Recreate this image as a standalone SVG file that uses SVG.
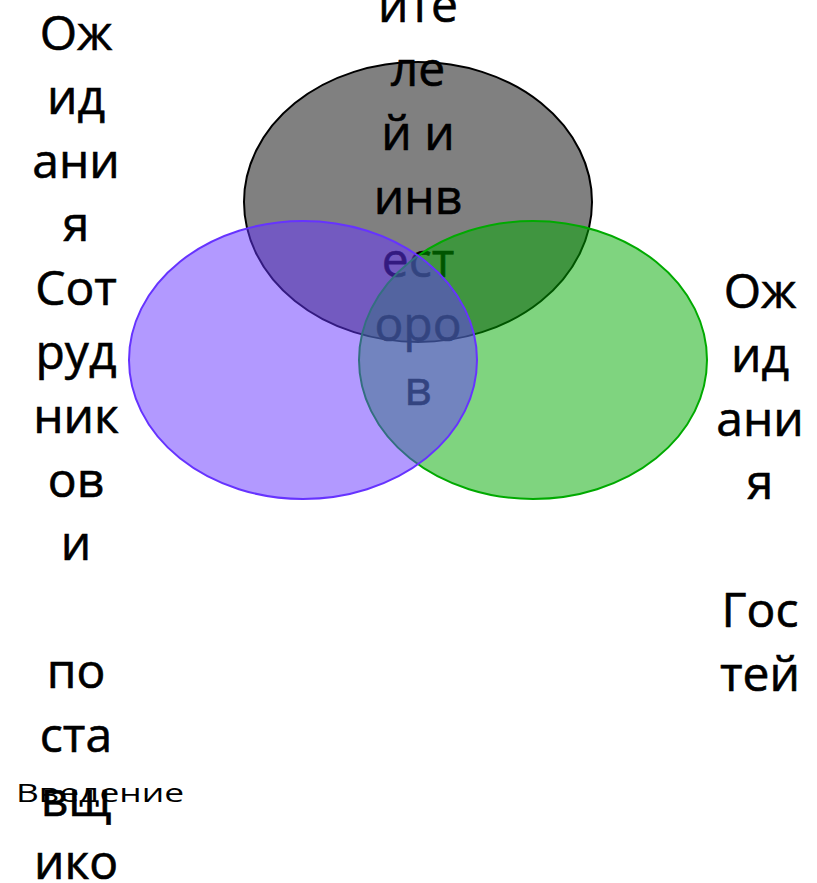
<svg xmlns="http://www.w3.org/2000/svg" width="817" height="883" viewBox="0 0 817 883">
<style>
.t{font-family:"Open Sans","Liberation Sans",sans-serif;font-size:48px;fill:#000;text-anchor:middle;stroke:currentColor;stroke-width:0.6}
.s{font-family:"Open Sans","Liberation Sans",sans-serif;font-size:26px;fill:#000}
.e{stroke-width:2}
</style>
<rect width="817" height="883" fill="#ffffff"/>
<g id="node-gray">
<ellipse class="e" cx="418" cy="202" rx="174" ry="140" fill="#808080" stroke="#000000"/>
<g color="#000">
<text class="t" x="418" y="22">ите</text>
<text class="t" x="418" y="86">ле</text>
<text class="t" x="418" y="150">й и</text>
<text class="t" x="418" y="213.6">инв</text>
<text class="t" x="418" y="277.4">ест</text>
<text class="t" x="418" y="341.2">оро</text>
<text class="t" x="418" y="405">в</text>
</g>
</g>
<g id="node-green">
<ellipse class="e" cx="533" cy="360" rx="174" ry="139" fill="#00aa00" fill-opacity="0.5" stroke="#00aa00"/>
</g>
<g id="node-purple">
<ellipse class="e" cx="303" cy="360" rx="174" ry="139" fill="#6633ff" fill-opacity="0.5" stroke="#6633ff"/>
</g>
<g id="label-left" color="#000">
<text class="t" x="76" y="50">Ож</text>
<text class="t" x="76" y="113.8">ид</text>
<text class="t" x="76" y="177.6">ани</text>
<text class="t" x="76" y="241.4">я</text>
<text class="t" x="76" y="305.2">Сот</text>
<text class="t" x="76" y="369">руд</text>
<text class="t" x="76" y="432.8">ник</text>
<text class="t" x="76" y="496.6">ов</text>
<text class="t" x="76" y="560.4">и</text>
<text class="t" x="76" y="688">по</text>
<text class="t" x="76" y="751.8">ста</text>
<text class="t" x="76" y="815.6">вщ</text>
<text class="t" x="76" y="879.4">ико</text>
</g>
<g id="label-right" color="#000">
<text class="t" x="760" y="308">Ож</text>
<text class="t" x="760" y="371.8">ид</text>
<text class="t" x="760" y="435.6">ани</text>
<text class="t" x="760" y="499.4">я</text>
<text class="t" x="760" y="627">Гос</text>
<text class="t" x="760" y="690.8">тей</text>
</g>
<g id="title">
<text class="s" x="16" y="802" textLength="168" lengthAdjust="spacingAndGlyphs">Введение</text>
</g>
<g id="connectors"/>
</svg>
